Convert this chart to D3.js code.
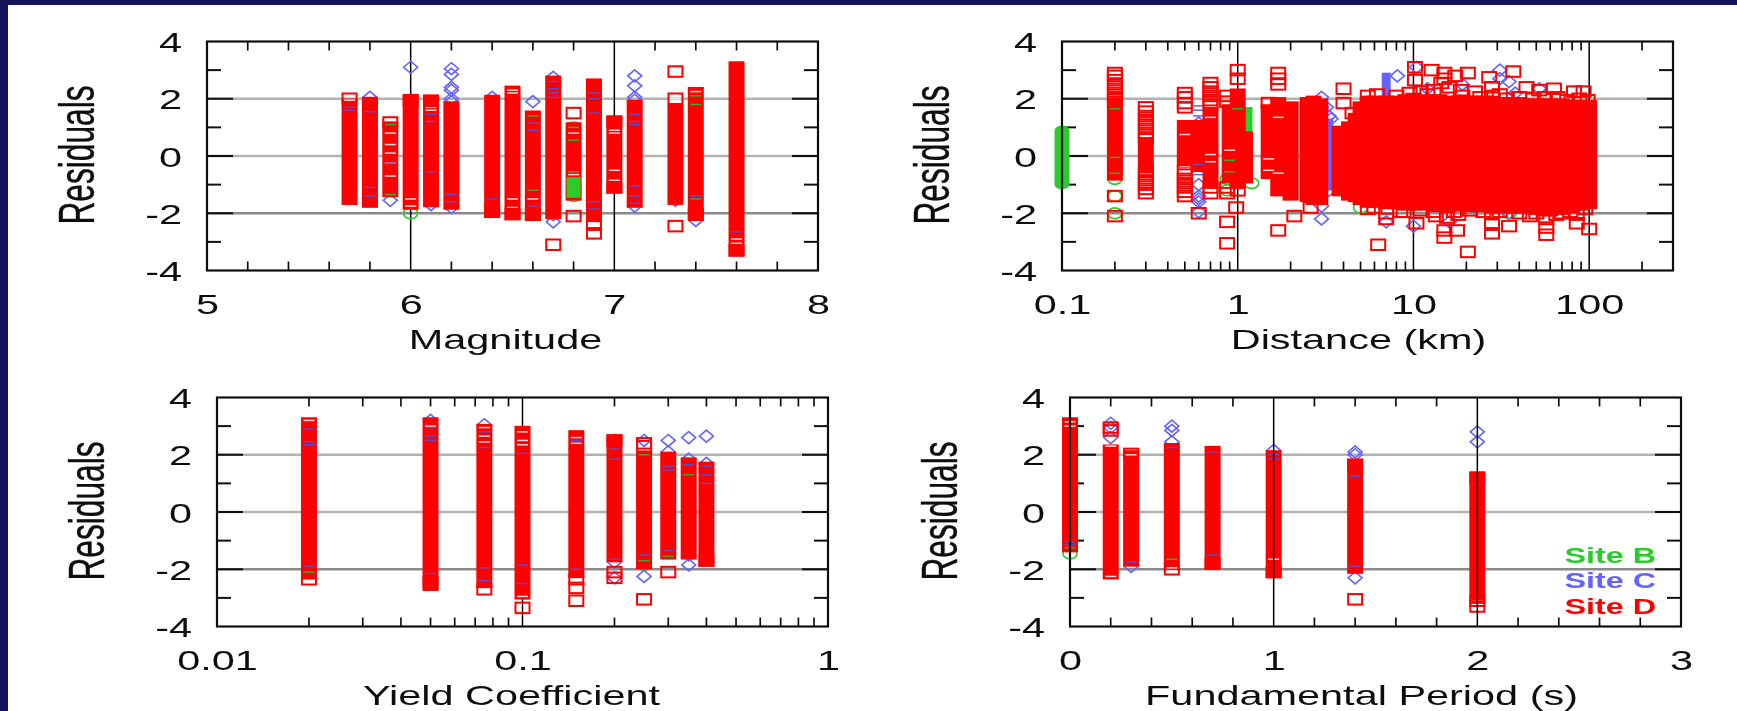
<!DOCTYPE html>
<html><head><meta charset="utf-8">
<script src="https://cdn.jsdelivr.net/npm/d3@7/dist/d3.min.js"></script>
<style>html,body{margin:0;padding:0;background:#14145c;overflow:hidden}svg{display:block}</style>
</head><body><svg id="c" width="1737" height="711"></svg>
<script>
// ---------- shared values ----------
const residualDomain=[-4,4];
const residualTicks=[-4,-2,0,2,4];
const residualMinorTicks=[-3,-1,1,3];
const legendLabels=["Site B","Site C","Site D"];

// ---------- Magnitude ----------
const magTicks=[5,6,7,8];
const magMinor=[5.2,5.4,5.6,5.8,6.2,6.4,6.6,6.8,7.2,7.4,7.6,7.8];
const magGrid=[6,7];
const magColumns=[[5.7,-1.5,1.8],[5.8,-1.6,1.85],[5.9,-1.23,1.0],[6,-1.67,1.95],[6.1,-1.58,1.93],[6.2,-1.67,1.7],[6.4,-1.95,1.93],[6.5,-2.03,2.25],[6.6,-2.05,1.38],[6.7,-2,2.6],[6.8,-1.35,0.97],[6.9,-2.1,2.5],[7,-1.1,1.2],[7.1,-1.6,1.75],[7.3,-1.5,1.6],[7.4,-2.05,2.2],[7.6,-3.3,3.1]];
const magD=[[5.7,2],[5.8,1.85],[5.9,1.17],[6,1.95],[6.1,1.93],[6.4,-1.95],[6.5,-2.03],[6.6,-2.05],[6.7,-3.1],[6.8,1.5],[6.8,-2.1],[6.9,-2.4],[6.9,-2.7],[7,1.2],[7,-1.1],[7.3,2.95],[7.3,2],[7.3,-2.45],[7.4,-2.05],[7.6,-3.3]];
const magC=[[5.8,2.05],[5.9,-1.55],[6,3.1],[6.1,-1.7],[6.2,3.05],[6.2,2.85],[6.2,2.4],[6.2,2.3],[6.2,2],[6.2,1.9],[6.2,-1.8],[6.4,2.05],[6.6,1.9],[6.7,2.75],[6.7,-2.3],[6.7,-2.05],[6.9,-2.05],[7.1,2.8],[7.1,2.45],[7.1,2.05],[7.1,1.95],[7.1,-1.75],[7.3,-1.55],[7.4,-2.25],[7.4,-1.85]];
const magB=[[6,-2],[6.8,1],[6.8,0.9],[6.8,-1],[6.8,-1.1],[6.8,-1.2],[6.8,-1.3],[6.8,-1.4],[7.4,-1.85]];
const magBlueDash=[[5.7,1.7],[5.7,1.6],[5.8,1.85],[5.8,1.55],[5.8,-1.1],[5.8,-1.4],[5.9,-0.25],[6.1,1.45],[6.1,1.2],[6.1,-0.55],[6.2,-1.35],[6.2,-1.6],[6.4,-1.5],[6.6,1.15],[6.6,0.9],[6.6,-1.75],[6.7,2.6],[6.7,2.35],[6.7,2.2],[6.7,2.05],[6.9,2.2],[6.9,2],[6.9,1.5],[6.9,-1.6],[6.9,-1.85],[7.1,1.45],[7.1,1.2],[7.1,1.1],[7.1,-1.05],[7.1,-1.4],[7.1,-1.65],[7.4,-1.4],[7.6,-2.65]];
const magGreenDash=[[5.9,1.1],[5.9,-1.35],[6.6,1.4],[6.6,-1.2],[6.8,1],[6.8,0.55],[6.8,-0.55],[7.4,2.1],[7.4,1.8],[7.4,-1.5]];
const magGreenBlocks=[[6.8,-1.25,-0.95]];
const magGaps=[[5.7,1.95],[5.8,2],[5.9,1.25],[5.9,0.8],[5.9,0.4],[5.9,0.1],[5.9,-0.25],[5.9,-0.7],[6,2],[6,-1.5],[6,-1.75],[6.1,1.95],[6.1,1.7],[6.1,1.6],[6.4,-1.85],[6.4,-2],[6.5,2.3],[6.5,2.2],[6.5,-1.5],[6.5,-1.8],[6.5,-1.9],[6.5,-2],[6.6,-1.5],[6.6,-2],[6.8,0.8],[6.8,-0.65],[7,1.05],[7,0.9],[7,0.8],[7,-0.5],[7,-0.85],[7,-1],[7.3,2],[7.4,2.25],[7.6,-2.9],[7.6,-3.05],[7.6,-3.2]];

// ---------- Distance ----------
const distTicks=[0.1,1,10,100];
const distMinor=[0.2,0.3,0.4,0.5,0.6,0.7,0.8,0.9,2,3,4,5,6,7,8,9,20,30,40,50,60,70,80,90,200,300];
const distGrid=[1,10,100];
const distPill=[[0.1,-0.95,0.85]];
const distGreenColumns=[[1.1,0.7,1.5]];
const distBlueColumns=[[3.3,-1,1.1],[7,1.9,2.7]];
const distColumns=[[0.2,-0.65,1.8],[0.3,-0.4,0.45],[0.5,-0.2,1.05],[0.6,-0.35,1.05],[0.7,0.2,1.5],[0.7,-0.9,-0.1],[0.9,-0.7,1.6],[1,-0.95,2.15],[1.1,-0.75,0.65],[1.5,-0.6,1.6],[1.7,-1.2,1.85],[2,-1.35,1.7],[2.5,-1.4,1.85],[2.7,-1.5,1.9],[2.95,-1.5,1.8],[3.8,-1.2,0.85],[4.3,-1.35,1],[4.7,-1.4,1.3],[5,-1.5,1.7],[5.5,-1.6,1.9],[6,-1.6,1.9],[7,-1.65,1.9],[8,-1.65,1.9],[9,-1.7,1.95],[10,-1.7,2],[12,-1.7,1.95],[14,-1.75,1.95],[16,-1.75,1.9],[18,-1.7,1.9],[20,-1.75,1.9],[22.5,-1.75,1.9],[25,-1.75,1.9],[28,-1.8,1.9],[32,-1.8,1.85],[36,-1.8,1.85],[40,-1.8,1.85],[45,-1.8,1.8],[50,-1.85,1.8],[55,-1.9,1.8],[60,-1.9,1.8],[70,-1.85,1.8],[80,-1.8,1.75],[90,-1.7,1.75],[100,-1.65,1.75]];
const distD=[[0.2,2.9],[0.2,2.8],[0.2,2.65],[0.2,2.5],[0.2,2.35],[0.2,2.2],[0.2,2.05],[0.2,1.9],[0.2,-1.4],[0.2,-2.1],[0.3,1.7],[0.3,1.55],[0.3,1.4],[0.3,1.25],[0.3,1.1],[0.3,0.95],[0.3,0.8],[0.3,0.65],[0.3,-0.55],[0.3,-0.7],[0.3,-0.85],[0.3,-1],[0.3,-1.15],[0.3,-1.3],[0.5,2.2],[0.5,2.05],[0.5,1.85],[0.5,1.7],[0.5,-0.5],[0.5,-0.65],[0.5,-0.8],[0.5,-0.95],[0.5,-1.1],[0.5,-1.25],[0.5,-1.4],[0.6,-2],[0.7,2.55],[0.7,2.4],[0.7,2.25],[0.7,2.1],[0.7,1.95],[0.7,1.8],[0.7,-1.1],[0.7,-1.3],[0.87,2.1],[0.87,1.9],[0.87,-1.1],[0.87,-1.3],[0.87,-2.3],[0.87,-3.05],[0.98,-1.8],[1,3],[1,2.7],[1,-1.2],[1.5,1.85],[1.7,2.9],[1.7,2.7],[1.7,2.5],[1.7,-2.6],[2.1,-2.1],[2.6,-1.8],[4,2.35],[4,1.85],[4.5,1.5],[6,-1.8],[6.3,-3.1],[7,-2.2],[7,-2],[8.4,-1.95],[10.2,3.1],[10.2,2.65],[10.4,-2.35],[12,2.15],[12.7,3],[13.4,-2.1],[14.4,2.55],[15,2.9],[15,2.7],[15,-2.6],[15,-2.85],[15.5,-2.15],[17.3,2.8],[17.7,-2.6],[18,-2.05],[18.6,2.3],[20.4,2.9],[20.4,-3.35],[22.4,2.25],[25,-1.95],[27,2.75],[28,2.4],[28,2.1],[28,-2],[28,-2.4],[28,-2.7],[35,-2.45],[37,2.95],[44,2.4],[46,-2.1],[52,2.3],[57,-2.2],[57,-2.5],[57,-2.75],[63,2.35],[70,-2],[82,2.25],[85,-2.05],[85,-2.35],[93,2.25],[100,-2.55],
[5.5,2.1],[6.2,2.15],[8,2.1],[9.5,2.2],[11,2.25],[13,2.3],[16,2.4],[19,2.1],[24,2.05],[31,2.15],[34,2],[40,2.05],[48,2],[56,2.05],[66,2.05],[75,1.95],[88,2],[98,1.95],[5.5,-1.85],[8.8,-1.95],[11,-1.9],[13,-1.95],[17,-1.95],[21,-1.9],[31,-1.95],[40,-2],[50,-2],[65,-2.05],[78,-1.95],[95,-1.85]];
const distC=[[0.6,1.15],[0.6,-1],[0.6,-1.4],[0.6,-1.5],[0.6,-1.6],[0.6,-1.95],[2.7,-1.5],[2.7,1.5],[3,2.05],[3,1.7],[3,-1.75],[3,-2.2],[3.2,1.7],[3.3,1.4],[3.4,1.3],[3.3,-1.2],[7,-2.3],[8.1,2.8],[10,-2.45],[10.4,3.1],[12,2.35],[16,-2.3],[19,2.5],[22,-1.75],[31,3],[31,2.7],[35,2.6],[35,-2],[38,2.2],[52,2.35]];
const distB=[[0.2,-0.8],[0.2,-1.4],[0.2,-2],[0.87,-0.8],[0.87,-1.2],[1.2,-0.95],[5,-1.8],[35,-2]];
const distBlueDash=[[0.6,1.75],[0.6,1.6],[0.6,1.4],[0.6,-0.65],[0.6,-0.3]];
const distGreenDash=[[0.2,1.65],[0.2,-0.05],[0.2,-0.6],[0.9,-0.15],[0.9,-0.55],[1,1.65]];
const distGaps=[[0.7,0.05],[0.7,-0.2],[0.7,1.35],[0.9,0.2],[1.5,-0.1],[1.5,-0.5],[1.7,1.35],[1.7,-0.6],[0.5,0.75],[0.5,-0.35]];

// ---------- Yield coefficient ----------
const yieldTicks=[0.01,0.1,1];
const yieldMinor=[0.02,0.03,0.04,0.05,0.06,0.07,0.08,0.09,0.2,0.3,0.4,0.5,0.6,0.7,0.8,0.9];
const yieldGrid=[0.1];
const yieldColumns=[[0.02,-2.15,3.1],[0.05,-2.55,3.1],[0.075,-2.45,2.87],[0.1,-2.85,2.8],[0.15,-2.1,2.65],[0.2,-1.55,2.5],[0.25,-1.8,1.9],[0.3,-1.45,1.9],[0.35,-1.45,1.7],[0.4,-1.7,1.55]];
const yieldD=[[0.02,-2.35],[0.05,-2.45],[0.075,-2.7],[0.1,-3.35],[0.15,-2.35],[0.15,-2.65],[0.15,-3.1],[0.2,2.5],[0.2,-2.1],[0.2,-2.3],[0.25,2.4],[0.25,2.3],[0.25,-3.05],[0.3,-2.1],[0.4,-1.7]];
const yieldC=[[0.05,3.2],[0.075,3.05],[0.15,2.2],[0.2,2.5],[0.2,-1.75],[0.2,-2.3],[0.25,2.5],[0.25,-2.25],[0.3,2.5],[0.3,2.1],[0.35,2.6],[0.35,1.85],[0.35,-1.5],[0.35,-1.85],[0.4,2.65],[0.4,1.7]];
const yieldB=[[0.25,-1.85]];
const yieldBlueDash=[[0.02,2.9],[0.02,2.45],[0.02,2.35],[0.02,-1.9],[0.05,2.95],[0.05,2.65],[0.05,2.5],[0.05,-2.15],[0.075,2.8],[0.075,2.25],[0.075,-1.95],[0.075,-2.4],[0.1,2.05],[0.1,-1.85],[0.1,-2.5],[0.15,2.5],[0.15,-2],[0.2,1.85],[0.2,2.2],[0.2,-1.65],[0.25,-1.5],[0.3,1.6],[0.3,1.45],[0.3,-1.35],[0.35,1.65],[0.4,1.6],[0.4,1.3],[0.4,1]];
const yieldGreenDash=[[0.02,-2.1],[0.25,2],[0.25,-1.7],[0.3,-1.55],[0.35,1.3]];
const yieldGaps=[[0.02,3.2],[0.05,3],[0.075,2.95],[0.075,2.65],[0.075,2.45],[0.1,2.8],[0.1,2.5],[0.1,2.35],[0.1,-2.95],[0.15,2.6],[0.15,2.4],[0.05,-2.5]];

// ---------- Fundamental period ----------
const periodTicks=[0,1,2,3];
const periodMinor=[0.2,0.4,0.6,0.8,1.2,1.4,1.6,1.8,2.2,2.4,2.6,2.8];
const periodGrid=[1,2];
const periodColumns=[[0,-1.2,3.1],[0.2,-2.15,2.15],[0.3,-1.7,1.95],[0.5,-1.85,2.2],[0.7,-1.8,2.1],[1,-2.1,1.95],[1.4,-1.95,1.65],[2,-3,1.2]];
const periodD=[[0.2,2.95],[0.2,2.85],[0.3,2.03],[0.5,-2],[0.7,-1.8],[1,-2.1],[1.4,-3.05],[1.4,1.65],[2,-3.1],[2,-3.3],[2,1.2]];
const periodC=[[0.2,3.1],[0.2,2.95],[0.2,2.6],[0.3,-1.9],[0.5,3],[0.5,2.85],[0.5,2.45],[1,2.15],[1.4,2.1],[1.4,2],[1.4,-2.3],[2,2.8],[2,2.45]];
const periodB=[[0,-1.45]];
const periodBlueDash=[[0,-1.05],[0,-1.15],[0.3,-1.75],[0.5,2.25],[0.7,2.1],[0.7,-1.5],[0.7,-1.75],[1,2],[1,1.85],[1,-1.9],[1.4,1.25],[1.4,-1.9],[2,1.15],[2,1]];
const periodGreenDash=[[0,-1.25],[0.5,-1.65]];
const periodGaps=[[0,3],[0.2,2.3],[0.2,-2.25],[0.3,2],[0.5,-1.95],[0.5,-2.05],[0.7,-1.85],[1,-1.65],[1,-2.1],[1.4,1.7],[2,-3.1],[2,-3.3],[0,3.15]];

// ---------- drawing ----------
const RED="#ff0000",BLUE="#6464ff",GREEN="#2ccc2c",INK="#111";
const FS=28,SX=1.48,FONT="'Liberation Sans',Arial,sans-serif";
const svg=d3.select("#c");
const defs=svg.append("defs");
defs.append("filter").attr("id","soft").attr("x",0).attr("y",0).attr("width",1).attr("height",1)
  .attr("filterUnits","objectBoundingBox")
  .append("feGaussianBlur").attr("stdDeviation",0.55);
const root=svg.append("g");
root.append("rect").attr("width",1737).attr("height",711).attr("fill","#14145c");
const page=root.append("g").attr("filter","url(#soft)");
page.append("rect").attr("x",8).attr("y",5).attr("width",1729).attr("height",706).attr("fill","#fff");

const squareW=15,squareH=10.5,columnW=16,columnPad=6;

function panel(o){
  const w=611,h=229;
  const g=page.append("g").attr("transform",`translate(${o.left},${o.top})`);
  const x=o.log?d3.scaleLog().domain(o.domain).range([0,w]):d3.scaleLinear().domain(o.domain).range([0,w]);
  const y=d3.scaleLinear().domain(residualDomain).range([h,0]);
  // grid
  g.selectAll("line.hgrid").data([-2,0,2]).join("line").attr("class","hgrid")
    .attr("x1",0).attr("x2",w).attr("y1",y).attr("y2",y)
    .attr("stroke",d=>d===-2?"#8a8a8a":"#b2b2b2").attr("stroke-width",2.4);
  const vgrid=sel=>sel.append("g").selectAll("line").data(o.grid).join("line")
    .attr("x1",x).attr("x2",x).attr("y1",0).attr("y2",h).attr("stroke","#000").attr("stroke-width",1.5);
  if(!o.gridOnTop) vgrid(g);
  // ticks on the inside of all four sides
  const major=[-2,0,2];
  [[0,1],[w,-1]].forEach(([px,dir])=>{
    g.append("g").selectAll("line").data(major).join("line")
      .attr("x1",px).attr("x2",px+dir*26).attr("y1",y).attr("y2",y).attr("stroke",INK).attr("stroke-width",2);
    g.append("g").selectAll("line").data(residualMinorTicks).join("line")
      .attr("x1",px).attr("x2",px+dir*14).attr("y1",y).attr("y2",y).attr("stroke",INK).attr("stroke-width",2);
  });
  [[0,1],[h,-1]].forEach(([py,dir])=>{
    g.append("g").selectAll("line").data(o.minor.filter(v=>v<o.domain[1])).join("line")
      .attr("x1",x).attr("x2",x).attr("y1",py).attr("y2",py+dir*9).attr("stroke",INK).attr("stroke-width",1.7);
  });
  // marks: B under C under D
  const circles=(data)=>g.append("g").selectAll("ellipse").data(data).join("ellipse")
    .attr("cx",d=>x(d[0])).attr("cy",d=>y(d[1])).attr("rx",7).attr("ry",5.4).attr("fill","none").attr("stroke",GREEN).attr("stroke-width",1.7);
  const band=(data,col,wd)=>g.append("g").selectAll("rect").data(data).join("rect")
    .attr("x",d=>x(d[0])-wd/2).attr("width",wd)
    .attr("y",d=>y(d[2])-columnPad).attr("height",d=>y(d[1])-y(d[2])+2*columnPad).attr("fill",col);
  circles(o.B||[]);
  if(o.pill) band(o.pill,GREEN,15).attr("rx",7).attr("ry",5);
  if(o.greenCols) band(o.greenCols,GREEN,15);
  if(o.blueCols) band(o.blueCols,BLUE,o.blueW||6);
  g.append("g").selectAll("path").data(o.C||[]).join("path")
    .attr("transform",d=>`translate(${x(d[0])},${y(d[1])})`)
    .attr("d","M0,-6 L7,0 L0,6 L-7,0 Z").attr("fill","none").attr("stroke",BLUE).attr("stroke-width",1.6);
  band(o.columns,RED,columnW);
  if(o.greenBlocks) band(o.greenBlocks,GREEN,14);
  // gaps left between the squares of a column, and the colours seen through them
  const dash=(data,col,op)=>g.append("g").selectAll("line").data(data).join("line")
    .attr("x1",d=>x(d[0])-5.5).attr("x2",d=>x(d[0])+5.5).attr("y1",d=>y(d[1])).attr("y2",d=>y(d[1]))
    .attr("stroke",col).attr("stroke-width",1.5).attr("stroke-opacity",op);
  dash(o.gaps||[],"#fff",0.85);
  dash(o.blueDash||[],"#5050e0",0.9);
  dash(o.greenDash||[],"#30b030",0.95);
  // isolated squares: fill only where they sit inside a column
  const inside=d=>o.columns.some(c=>c[0]===d[0]&&d[1]>=c[1]&&d[1]<=c[2]);
  g.append("g").selectAll("rect").data(o.D||[]).join("rect")
    .attr("x",d=>x(d[0])-squareW/2+0.5).attr("y",d=>y(d[1])-squareH/2).attr("width",squareW-1).attr("height",squareH)
    .attr("fill",d=>inside(d)?RED:"none").attr("stroke",RED).attr("stroke-width",2);
  if(o.gridOnTop) vgrid(g);
  // frame
  g.append("rect").attr("width",w).attr("height",h).attr("fill","none").attr("stroke",INK).attr("stroke-width",2.2);
  // axes (labels only; ticks are above)
  const fmt=v=>String(v);
  const ax=g.append("g").attr("transform",`translate(0,${h})`)
    .call(d3.axisBottom(x).tickValues(o.ticks).tickFormat(fmt).tickSize(0));
  ax.select(".domain").remove();
  ax.selectAll("text").attr("y",0).attr("dy",0).attr("x",0)
    .attr("transform",`translate(0,43) scale(${SX},1)`).attr("font-family",FONT)
    .attr("font-size",FS).attr("fill",INK).attr("text-anchor","middle");
  const ay=g.append("g").call(d3.axisLeft(y).tickValues(residualTicks).tickFormat(fmt).tickSize(0));
  ay.select(".domain").remove();
  ay.selectAll("text").attr("x",0).attr("dy",0).attr("y",0)
    .attr("transform",`translate(-25,10) scale(${SX},1)`).attr("font-family",FONT)
    .attr("font-size",FS).attr("fill",INK).attr("text-anchor","end");
  // titles
  g.append("text").text(o.title).attr("transform",`translate(${w/2+o.titleShift},${h+78}) scale(${SX},1)`)
    .attr("text-anchor","middle").attr("font-family",FONT).attr("font-size",FS).attr("fill",INK);
  g.append("text").text("Residuals").attr("transform",`translate(-113,${h/2-1}) rotate(-90) scale(1.32,2.09)`)
    .attr("text-anchor","middle").attr("font-family",FONT).attr("font-size",24).attr("fill",INK)
    .attr("stroke",INK).attr("stroke-width",0.2);
  return {g,x,y};
}

panel({left:207,top:41.5,domain:[5,8],ticks:magTicks,minor:magMinor,grid:magGrid,title:"Magnitude",titleShift:-7,
  columns:magColumns,D:magD,C:magC,B:magB,greenBlocks:magGreenBlocks,blueDash:magBlueDash,greenDash:magGreenDash,gaps:magGaps});
panel({left:1062,top:41.5,log:true,domain:[0.1,300],ticks:distTicks,minor:distMinor,grid:distGrid,title:"Distance (km)",titleShift:-9,
  columns:distColumns,D:distD,C:distC,B:distB,pill:distPill,greenCols:distGreenColumns,blueCols:distBlueColumns,blueW:9,blueDash:distBlueDash,greenDash:distGreenDash,gaps:distGaps});
panel({left:217,top:397.5,log:true,domain:[0.01,1],ticks:yieldTicks,minor:yieldMinor,grid:yieldGrid,title:"Yield Coefficient",titleShift:-11,
  columns:yieldColumns,D:yieldD,C:yieldC,B:yieldB,blueDash:yieldBlueDash,greenDash:yieldGreenDash,gaps:yieldGaps});
const p4=panel({left:1070,top:397.5,domain:[0,3],ticks:periodTicks,minor:periodMinor,grid:periodGrid,title:"Fundamental Period (s)",titleShift:-14,gridOnTop:true,
  columns:periodColumns,D:periodD,C:periodC,B:periodB,blueDash:periodBlueDash,greenDash:periodGreenDash,gaps:periodGaps});

// legend
const legendColors=[GREEN,BLUE,RED];
const legendY=d3.scalePoint().domain(legendLabels).range([165,216]);
p4.g.append("g").selectAll("text").data(legendLabels).join("text").text(d=>d)
  .attr("transform",d=>`translate(586,${legendY(d)}) scale(1.47,1)`)
  .attr("text-anchor","end").attr("font-family",FONT)
  .attr("font-weight","bold").attr("font-size",22).attr("fill",(d,i)=>legendColors[i]);
</script></body></html>
